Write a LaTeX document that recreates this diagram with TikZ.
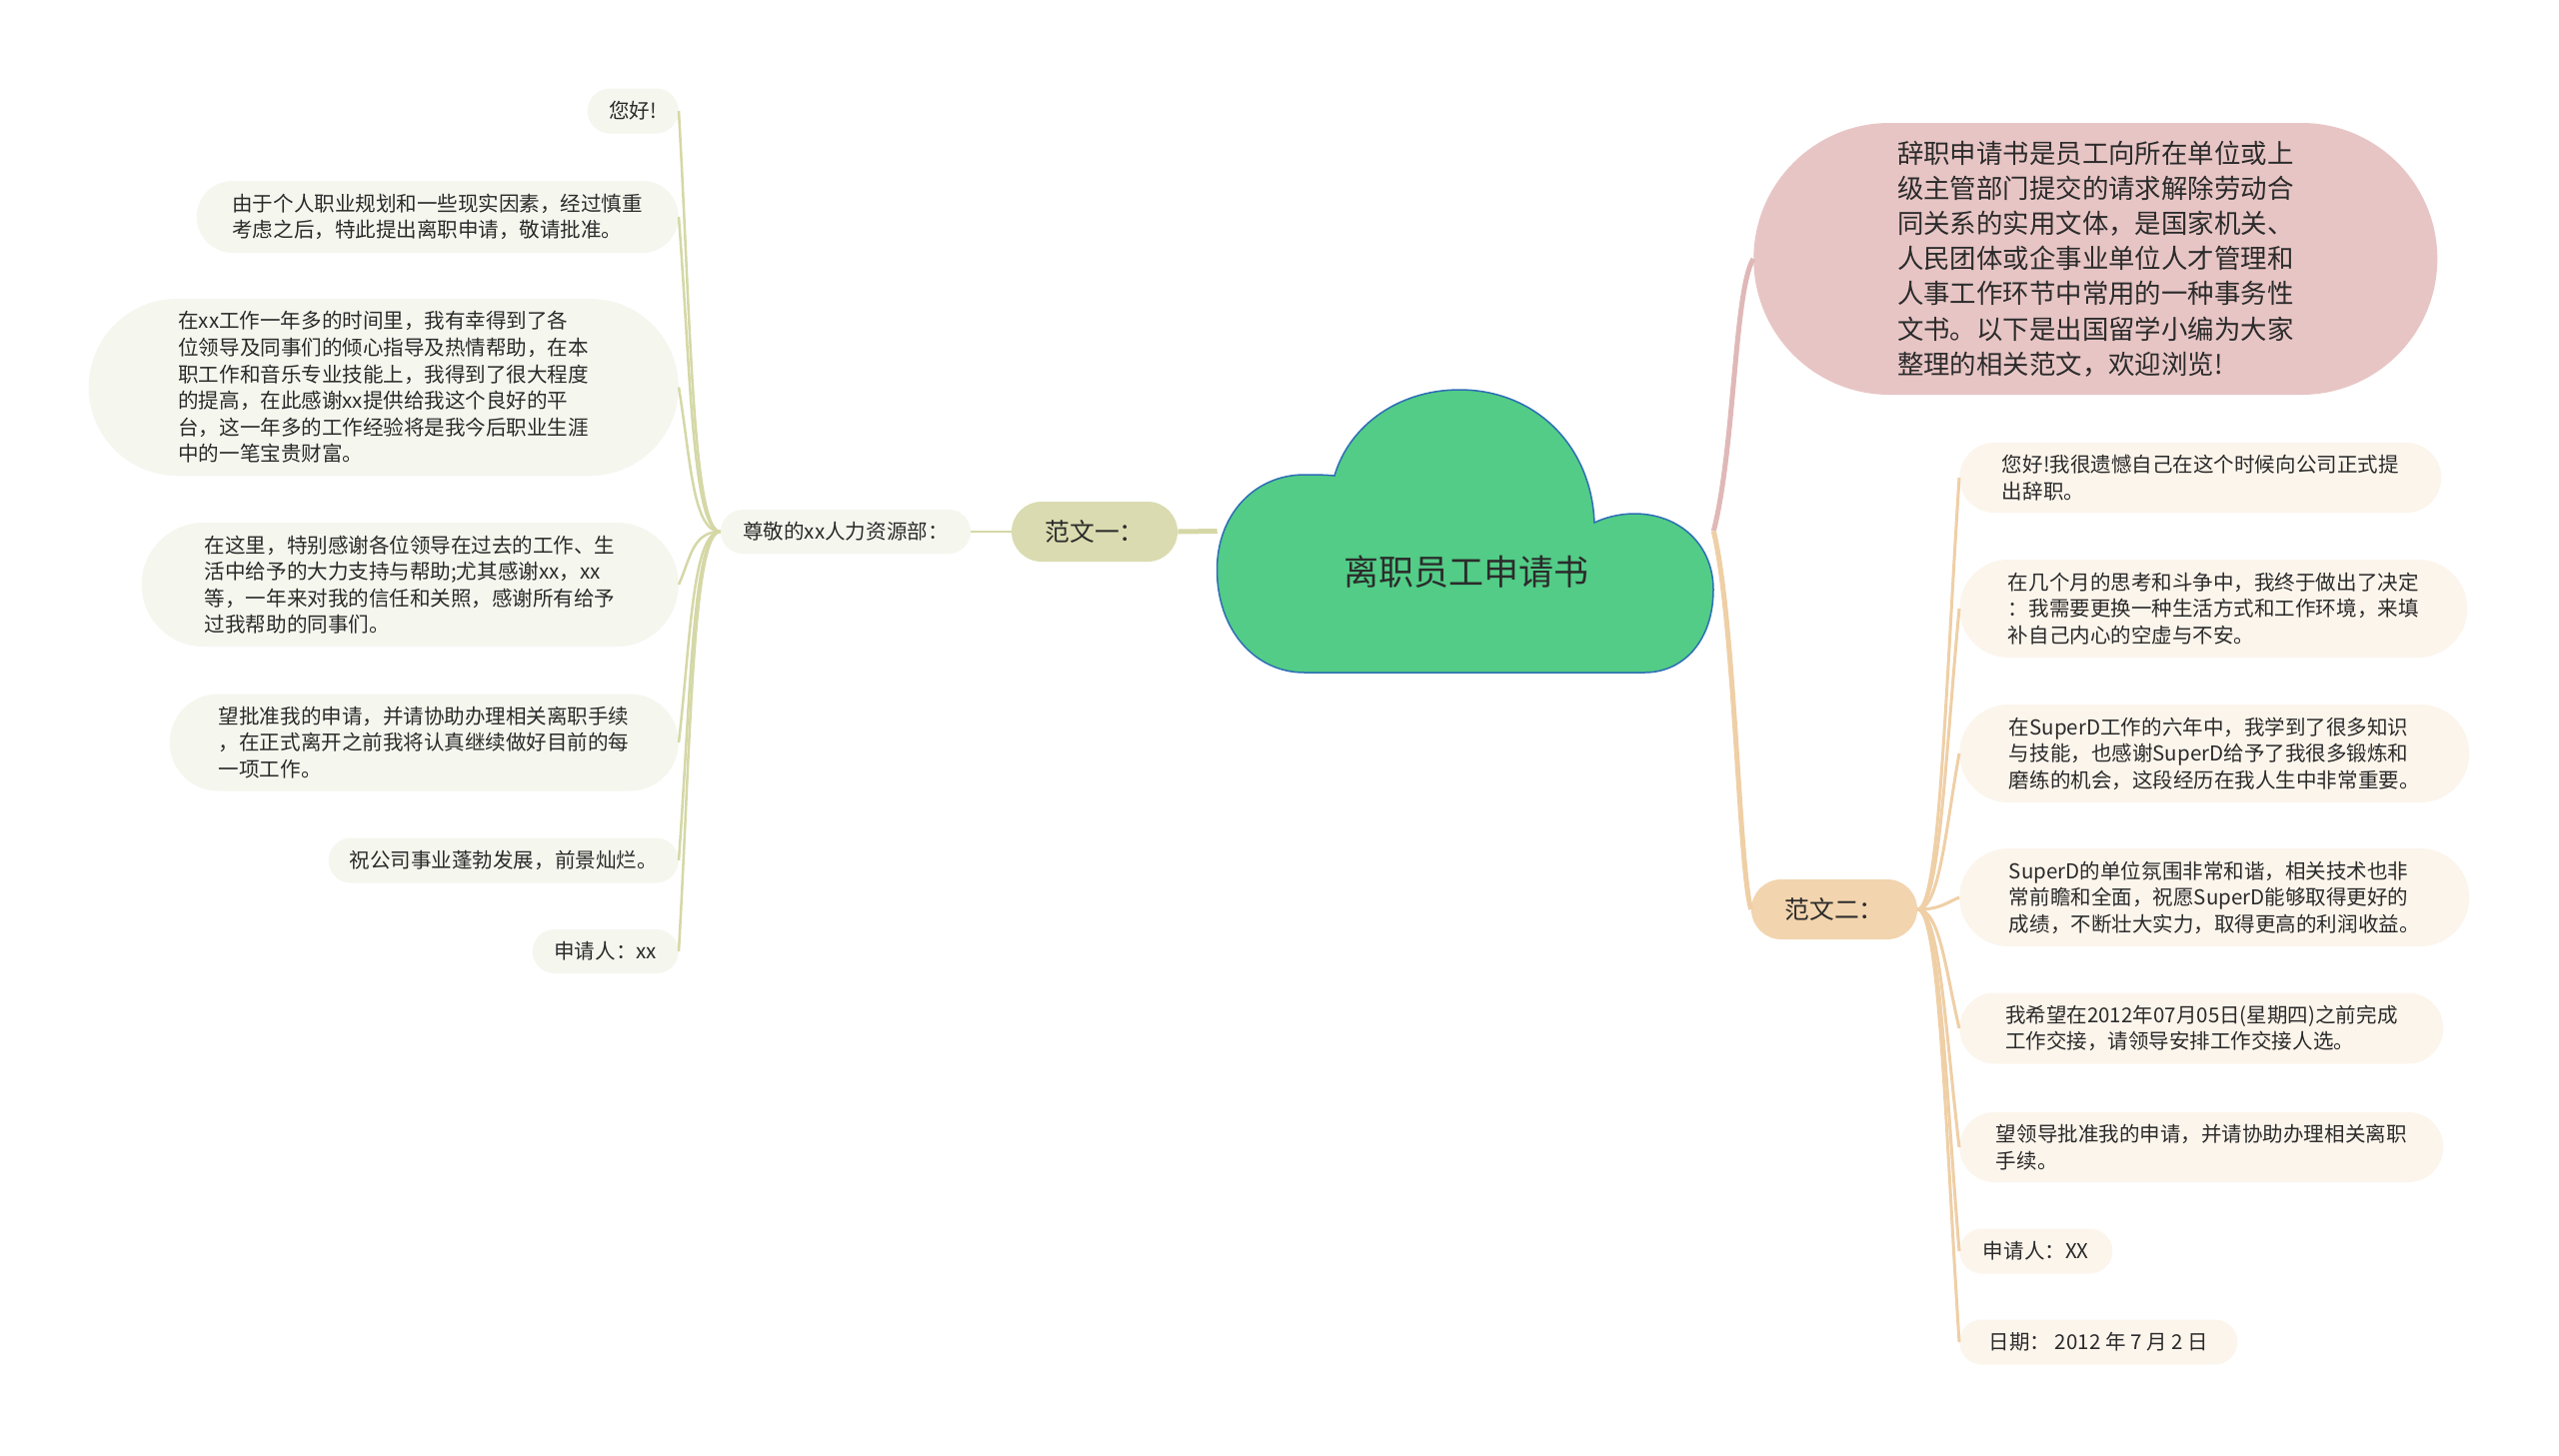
\documentclass[tikz,border=0pt]{standalone}
\usepackage{fontspec}
\setmainfont{Noto Sans CJK SC}
\usetikzlibrary{shapes.misc,calc}
\definecolor{cloudfill}{HTML}{52CC86}
\definecolor{cloudedge}{HTML}{2C6EB5}
\definecolor{oliveline}{HTML}{D5D8A6}
\definecolor{olivefill}{HTML}{DADBB0}
\definecolor{oliveleaf}{HTML}{F5F6EE}
\definecolor{pinkfill}{HTML}{E8C5C5}
\definecolor{pinkline}{HTML}{E0B8B8}
\definecolor{peachfill}{HTML}{F2D4AE}
\definecolor{peachline}{HTML}{EFCFA6}
\definecolor{peachleaf}{HTML}{FCF5EC}
\definecolor{inktext}{HTML}{2B2B2B}
\newcommand{\pxu}{*0.025cm}
\newcommand{\leaffont}{\fontsize{14.6pt}{18.9pt}\selectfont}
\newcommand{\introfont}{\fontsize{18.8pt}{25pt}\selectfont}
\newcommand{\branchfont}{\fontsize{17.6pt}{22pt}\selectfont}
\newcommand{\titlefont}{\fontsize{24.9pt}{30pt}\selectfont}

\begin{document}
\begin{tikzpicture}[
    x=0.025cm, y=-0.025cm,
    leafL/.style={rounded rectangle, fill=oliveleaf, inner sep=0pt, align=left, anchor=east, font=\leaffont, text=inktext},
    leafR/.style={rounded rectangle, fill=peachleaf, inner sep=0pt, align=left, anchor=west, font=\leaffont, text=inktext},
    branch/.style={rounded rectangle, inner sep=0pt, minimum width=166\pxu, minimum height=60\pxu, font=\branchfont, text=inktext},
    lineL/.style={draw=oliveline, line width=2.5\pxu},
    lineR/.style={draw=peachline, line width=3\pxu},
    trunk/.style={line width=5\pxu}
]
\useasboundingbox (0,0) rectangle (2560,1456);
\fill[white] (0,0) rectangle (2560,1456);

% Cloud
\filldraw[fill=cloudfill, draw=cloudedge, line width=1.5\pxu]
  (1305,673) -- (1645,673)
  .. controls (1685,673) and (1714,640) .. (1714,590)
  .. controls (1714,545) and (1680,514) .. (1635,514)
  .. controls (1620,514) and (1605,518) .. (1595,523)
  .. controls (1592,445) and (1535,390) .. (1460,390)
  .. controls (1400,390) and (1350,425) .. (1335,476)
  .. controls (1325,475) and (1315,475) .. (1305,475)
  .. controls (1255,475) and (1217.5,515) .. (1217.5,570)
  .. controls (1217.5,630) and (1255,673) .. (1305,673) -- cycle;
\node[minimum width=496\pxu, minimum height=283\pxu, inner sep=0pt] (main) at (1466,531.5) {};
\node[font=\titlefont, text=inktext] (title) at (1467,572) {离职员工申请书};

% Nodes
\node[branch, fill=olivefill] (f1) at (1095,532) {范文一：};
\node[rounded rectangle, fill=oliveleaf, inner sep=0pt, minimum width=250\pxu, minimum height=44\pxu, font=\leaffont, text=inktext] (zj) at (846,532) {尊敬的xx人力资源部：};

\node[leafL, minimum width=91\pxu, minimum height=45\pxu] (l1) at (679,111) {您好!};
\node[leafL, minimum width=482\pxu, minimum height=72\pxu] (l2) at (679,217) {由于个人职业规划和一些现实因素，经过慎重\\考虑之后，特此提出离职申请，敬请批准。};
\node[leafL, minimum width=590\pxu, minimum height=177\pxu] (l3) at (679,387.5) {在xx工作一年多的时间里，我有幸得到了各\\位领导及同事们的倾心指导及热情帮助，在本\\职工作和音乐专业技能上，我得到了很大程度\\的提高，在此感谢xx提供给我这个良好的平\\台，这一年多的工作经验将是我今后职业生涯\\中的一笔宝贵财富。};
\node[leafL, minimum width=537\pxu, minimum height=124\pxu] (l4) at (679,585) {在这里，特别感谢各位领导在过去的工作、生\\活中给予的大力支持与帮助;尤其感谢xx，xx\\等，一年来对我的信任和关照，感谢所有给予\\过我帮助的同事们。};
\node[leafL, minimum width=509\pxu, minimum height=97\pxu] (l5) at (679,743) {望批准我的申请，并请协助办理相关离职手续\\，在正式离开之前我将认真继续做好目前的每\\一项工作。};
\node[leafL, minimum width=350\pxu, minimum height=45\pxu] (l6) at (679,861) {祝公司事业蓬勃发展，前景灿烂。};
\node[leafL, minimum width=146\pxu, minimum height=44\pxu] (l7) at (679,952) {申请人：xx};

\node[rounded rectangle, fill=pinkfill, inner sep=0pt, anchor=west, minimum width=684\pxu, minimum height=272\pxu, align=left, font=\introfont, text=inktext] (intro) at (1754,259) {辞职申请书是员工向所在单位或上\\级主管部门提交的请求解除劳动合\\同关系的实用文体，是国家机关、\\人民团体或企事业单位人才管理和\\人事工作环节中常用的一种事务性\\文书。以下是出国留学小编为大家\\整理的相关范文，欢迎浏览!};
\node[branch, fill=peachfill] (f2) at (1835,910) {范文二：};

\node[leafR, minimum width=482\pxu, minimum height=70\pxu] (r1) at (1960,478) {您好!我很遗憾自己在这个时候向公司正式提\\出辞职。};
\node[leafR, minimum width=508\pxu, minimum height=98\pxu] (r2) at (1960,609) {在几个月的思考和斗争中，我终于做出了决定\\：我需要更换一种生活方式和工作环境，来填\\补自己内心的空虚与不安。};
\node[leafR, minimum width=510\pxu, minimum height=98\pxu] (r3) at (1960,754) {在SuperD工作的六年中，我学到了很多知识\\与技能，也感谢SuperD给予了我很多锻炼和\\磨练的机会，这段经历在我人生中非常重要。};
\node[leafR, minimum width=510\pxu, minimum height=98\pxu] (r4) at (1960,898) {SuperD的单位氛围非常和谐，相关技术也非\\常前瞻和全面，祝愿SuperD能够取得更好的\\成绩，不断壮大实力，取得更高的利润收益。};
\node[leafR, minimum width=484\pxu, minimum height=71\pxu] (r5) at (1960,1029) {我希望在2012年07月05日(星期四)之前完成\\工作交接，请领导安排工作交接人选。};
\node[leafR, minimum width=484\pxu, minimum height=70\pxu] (r6) at (1960,1148) {望领导批准我的申请，并请协助办理相关离职\\手续。};
\node[leafR, minimum width=153\pxu, minimum height=45\pxu] (r7) at (1960,1252) {申请人：XX};
\node[leafR, minimum width=278\pxu, minimum height=45\pxu] (r8) at (1960,1343) {日期： 2012 年 7 月 2 日};

% Paths
\draw[lineL, trunk] (f1.east) -- (main.west);
\draw[lineL] (zj.east) -- (f1.west);
\draw[pinkline, trunk] (main.east) .. controls ($(main.east)+(21,-82)$) and ($(intro.west)+(-19,31)$) .. (intro.west);
\draw[peachline, trunk] (main.east) .. controls ($(main.east)+(21,88)$) and ($(f2.west)+(-12,-40)$) .. (f2.west);

\draw[lineL] (zj.west) .. controls ($(zj.west)+(-28,0)$) and ($(l1.east)+(12,210)$) .. (l1.east);
\draw[lineL] (zj.west) .. controls ($(zj.west)+(-28,0)$) and ($(l2.east)+(12,158)$) .. (l2.east);
\draw[lineL] (zj.west) .. controls ($(zj.west)+(-28,0)$) and ($(l3.east)+(12,72)$) .. (l3.east);
\draw[lineL] (zj.west) .. controls ($(zj.west)+(-28,0)$) and ($(l4.east)+(12,-27)$) .. (l4.east);
\draw[lineL] (zj.west) .. controls ($(zj.west)+(-28,0)$) and ($(l5.east)+(12,-105)$) .. (l5.east);
\draw[lineL] (zj.west) .. controls ($(zj.west)+(-28,0)$) and ($(l6.east)+(12,-165)$) .. (l6.east);
\draw[lineL] (zj.west) .. controls ($(zj.west)+(-28,0)$) and ($(l7.east)+(12,-210)$) .. (l7.east);

\draw[lineR] (f2.east) .. controls ($(f2.east)+(22,0)$) and ($(r1.west)+(-14,216)$) .. (r1.west);
\draw[lineR] (f2.east) .. controls ($(f2.east)+(22,0)$) and ($(r2.west)+(-14,150)$) .. (r2.west);
\draw[lineR] (f2.east) .. controls ($(f2.east)+(22,0)$) and ($(r3.west)+(-14,78)$) .. (r3.west);
\draw[lineR] (f2.east) .. controls ($(f2.east)+(22,0)$) and ($(r4.west)+(-14,6)$) .. (r4.west);
\draw[lineR] (f2.east) .. controls ($(f2.east)+(22,0)$) and ($(r5.west)+(-14,-60)$) .. (r5.west);
\draw[lineR] (f2.east) .. controls ($(f2.east)+(22,0)$) and ($(r6.west)+(-14,-119)$) .. (r6.west);
\draw[lineR] (f2.east) .. controls ($(f2.east)+(22,0)$) and ($(r7.west)+(-14,-171)$) .. (r7.west);
\draw[lineR] (f2.east) .. controls ($(f2.east)+(22,0)$) and ($(r8.west)+(-14,-216)$) .. (r8.west);

\end{tikzpicture}
\end{document}
